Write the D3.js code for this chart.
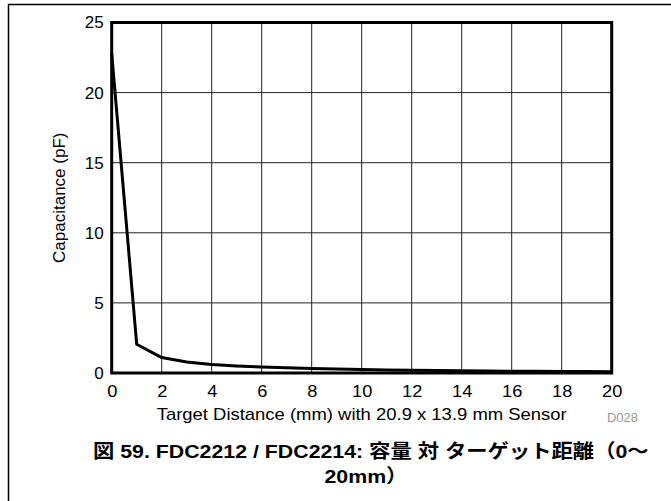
<!DOCTYPE html>
<html>
<head>
<meta charset="utf-8">
<script src="https://cdn.jsdelivr.net/npm/d3@7"></script>
<style>
  html, body { margin: 0; padding: 0; background: #fff; }
  svg { display: block; }
</style>
</head>
<body>
<script>
// ---- data ----
const distance = [0,1,2,3,4,5,6,7,8,9,10,11,12,13,14,15,16,17,18,19,20];
const capacitance = [22.8,2.05,1.1,0.78,0.6,0.5,0.43,0.37,0.32,0.28,0.25,0.22,0.2,0.18,0.16,0.14,0.13,0.12,0.11,0.1,0.09];
const xTicks = [0,2,4,6,8,10,12,14,16,18,20];
const yTicks = [0,5,10,15,20,25];
const xTitle = "Target Distance (mm) with 20.9 x 13.9 mm Sensor";
const yTitle = "Capacitance (pF)";
const figId = "D028";
const captionLines = ["図 59. FDC2212 / FDC2214: 容量 対 ターゲット距離（0～", "20mm）"];

// ---- layout ----
const W = 671, H = 501;
const pLeft = 111.7, pRight = 611.7, pTop = 22.5, pBottom = 373;
const font = "'Liberation Sans', Arial, sans-serif";

const svg = d3.select("body").append("svg").attr("width", W).attr("height", H);
svg.append("rect").attr("width", W).attr("height", H).attr("fill", "#fff");

// outer page frame (top and left edges visible)
svg.append("path").attr("d", `M8.5,${H} V4.5 H${W}`).attr("fill", "none")
  .attr("stroke", "#000").attr("stroke-width", 1.5);

const x = d3.scaleLinear().domain([0, 20]).range([pLeft, pRight]);
const y = d3.scaleLinear().domain([0, 25]).range([pBottom, pTop]);

// grid
const grid = svg.append("g").attr("stroke", "#222").attr("stroke-width", 1);
grid.selectAll("line.v").data(xTicks.slice(1, -1)).join("line").attr("class", "v")
  .attr("x1", d => x(d)).attr("x2", d => x(d)).attr("y1", pTop).attr("y2", pBottom);
grid.selectAll("line.h").data(yTicks.slice(1, -1)).join("line").attr("class", "h")
  .attr("y1", d => y(d)).attr("y2", d => y(d)).attr("x1", pLeft).attr("x2", pRight);

// data line
svg.append("path")
  .datum(distance.map((d, i) => [d, capacitance[i]]))
  .attr("fill", "none").attr("stroke", "#000").attr("stroke-width", 3)
  .attr("stroke-linejoin", "round")
  .attr("d", d3.line().x(d => x(d[0])).y(d => y(d[1])));

// plot frame
svg.append("rect").attr("x", pLeft).attr("y", pTop)
  .attr("width", pRight - pLeft).attr("height", pBottom - pTop)
  .attr("fill", "none").attr("stroke", "#000").attr("stroke-width", 3);

// axes (labels only)
const yAxis = d3.axisLeft(y).tickValues(yTicks).tickSize(0).tickPadding(8);
const gy = svg.append("g").attr("transform", `translate(${pLeft},0)`).call(yAxis);
gy.select(".domain").remove();
gy.selectAll("text").attr("font-family", font).attr("font-size", 17).attr("fill", "#000");

const xAxis = d3.axisBottom(x).tickValues(xTicks).tickSize(0).tickPadding(12);
const gx = svg.append("g").attr("transform", `translate(0,${pBottom})`).call(xAxis);
gx.select(".domain").remove();
gx.selectAll("text").attr("font-family", font).attr("font-size", 17).attr("fill", "#000")
  .attr("textLength", function () { return this.getComputedTextLength() * 1.07; })
  .attr("lengthAdjust", "spacingAndGlyphs");

// axis titles
svg.append("text").attr("x", (pLeft + pRight) / 2).attr("y", 420)
  .attr("text-anchor", "middle").attr("font-family", font).attr("font-size", 17)
  .attr("fill", "#000").attr("textLength", 410).attr("lengthAdjust", "spacingAndGlyphs")
  .text(xTitle);

svg.append("text").attr("transform", `translate(65,${(pTop + pBottom) / 2}) rotate(-90)`)
  .attr("text-anchor", "middle").attr("font-family", font).attr("font-size", 17)
  .attr("fill", "#000").text(yTitle);

svg.append("text").attr("x", 638).attr("y", 422).attr("text-anchor", "end")
  .attr("font-family", font).attr("font-size", 13).attr("fill", "#999").text(figId);

// caption
const capFont = "'Liberation Sans', 'Noto Sans CJK JP', sans-serif";
const caps = svg.selectAll("text.cap").data(captionLines).join("text")
  .attr("class", "cap")
  .attr("x", 0).attr("y", 0)
  .attr("text-anchor", "start").attr("font-family", capFont)
  .attr("font-weight", "bold").attr("font-size", 19).attr("fill", "#000")
  .text(d => d);
const firstLen = caps.node().getComputedTextLength();
const sx = 556 / firstLen;
caps.attr("transform", (d, i) => {
  const len = i === 0 ? firstLen : caps.nodes()[i].getComputedTextLength();
  const x0 = i === 0 ? 93 : 366 - (len * sx) / 2;
  return `translate(${x0},${458 + i * 25}) scale(${sx},1)`;
});
</script>
</body>
</html>
